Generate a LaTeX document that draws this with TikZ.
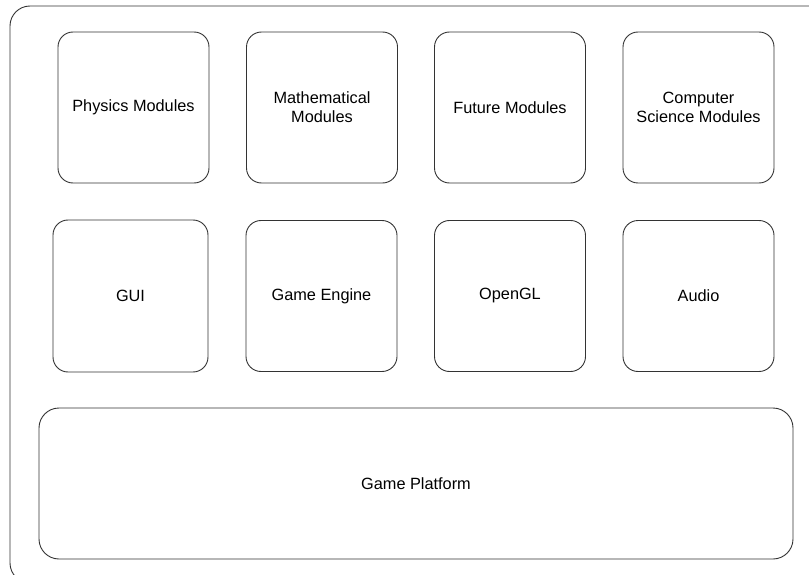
\documentclass[tikz,border=0pt]{standalone}
\usepackage{fontspec}
\setmainfont{Liberation Sans}
\usepackage{tikz}
\tikzstyle{frame} = [draw=black!80, line width=0.9pt, rounded corners=20pt]
\tikzstyle{modbox} = [draw=black!80, fill=white, line width=0.9pt, rectangle, rounded corners=15pt, inner sep=0pt, minimum width=151pt, minimum height=151pt, align=center, font=\fontsize{16.3}{19}\selectfont]
\tikzstyle{basebox} = [modbox, rounded corners=20pt, minimum width=754pt]

\begin{document}
\begin{tikzpicture}[x=1pt, y=-1pt]
\clip (0,0) rectangle (809,575);
\draw[frame] (10,6) rectangle (830,583);
% top row
\node [modbox] (physics) at (133.5,107.5) {Physics Modules};
\node [modbox] (maths) at (322,107.5) {Mathematical\\Modules};
\node [modbox] (future) at (510,107.5) {Future Modules};
\node [modbox] (compsci) at (698.5,107.5) {Computer\\Science Modules};
% middle row
\node [modbox, minimum width=155pt, minimum height=152pt] (gui) at (130.5,296) {GUI};
\node [modbox] (engine) at (321.5,296) {Game Engine};
\node [modbox] (opengl) at (510,296) {OpenGL};
\node [modbox] (audio) at (698.5,296) {Audio};
% bottom
\node [basebox] (platform) at (416,483.5) {Game Platform};
\end{tikzpicture}
\end{document}
